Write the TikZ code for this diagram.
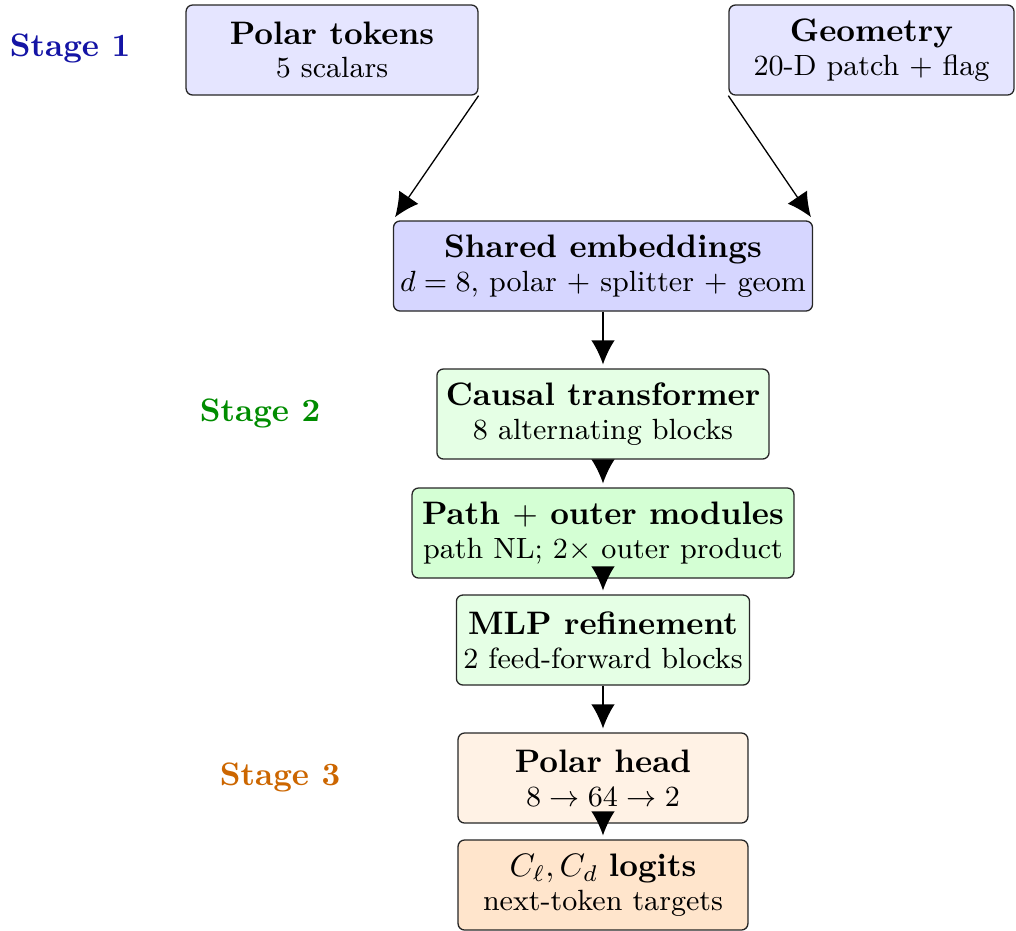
\documentclass[tikz,border=0pt]{standalone}
\usetikzlibrary{arrows.meta}
\definecolor{stageone}{RGB}{20,20,165}
\definecolor{stagetwo}{RGB}{0,140,0}
\definecolor{stagethree}{RGB}{204,102,0}
\begin{document}
\begin{tikzpicture}[x=0.30769pt,y=-0.30769pt,
  box/.style={draw=black!85, rounded corners=2pt, align=center, minimum height=27.7pt, inner sep=2pt, line width=0.4pt},
  arr/.style={-{Latex[length=7.4pt,width=7.2pt]}, shorten >=1.2pt, line width=0.4pt},
  stg/.style={font=\bfseries}]
\useasboundingbox (0,0) rectangle (1016,930);
% stage labels
\node[stg, text=stageone] (s1) at (70,48) {Stage 1};
\node[stg, text=stagetwo] (s2) at (260,413) {Stage 2};
\node[stg, text=stagethree] (s3) at (280,777) {Stage 3};
% boxes
\node[box, fill=blue!10, minimum width=89.8pt] (polar) at (332,50)
  {{\bfseries Polar tokens}\\[-1.6pt]{\small 5 scalars}};
\node[box, fill=blue!10, minimum width=87.7pt] (geom) at (871.5,50)
  {{\bfseries Geometry}\\[-1.6pt]{\small 20-D patch $+$ flag}};
\node[box, fill=blue!16, minimum width=128.9pt] (shared) at (603,266)
  {{\bfseries Shared embeddings}\\[-1.6pt]{\small $d=8$, polar $+$ splitter $+$ geom}};
\node[box, fill=green!10, minimum width=102.2pt] (causal) at (603,414)
  {{\bfseries Causal transformer}\\[-1.6pt]{\small 8 alternating blocks}};
\node[box, fill=green!17, minimum width=117.5pt] (path) at (603,533)
  {{\bfseries Path $+$ outer modules}\\[-1.6pt]{\small path NL; 2$\times$ outer product}};
\node[box, fill=green!10, minimum width=90.2pt] (mlp) at (603,640)
  {{\bfseries MLP refinement}\\[-1.6pt]{\small 2 feed-forward blocks}};
\node[box, fill=orange!10, minimum width=89.2pt] (head) at (603,778)
  {{\bfseries Polar head}\\[-1.6pt]{\small $8\to 64\to 2$}};
\node[box, fill=orange!20, minimum width=89.2pt] (logits) at (603,885)
  {$C_\ell, C_d$ {\bfseries logits}\\[-1.6pt]{\small next-token targets}};
% arrows
\draw[arr] (polar.south east) -- (shared.north west);
\draw[arr] (geom.south west) -- (shared.north east);
\draw[arr] (shared.south) -- (causal.north);
\draw[arr] (causal.south) -- (path.north);
\draw[arr] (path.south) -- (mlp.north);
\draw[arr] (mlp.south) -- (head.north);
\draw[arr] (head.south) -- (logits.north);
\end{tikzpicture}
\end{document}
